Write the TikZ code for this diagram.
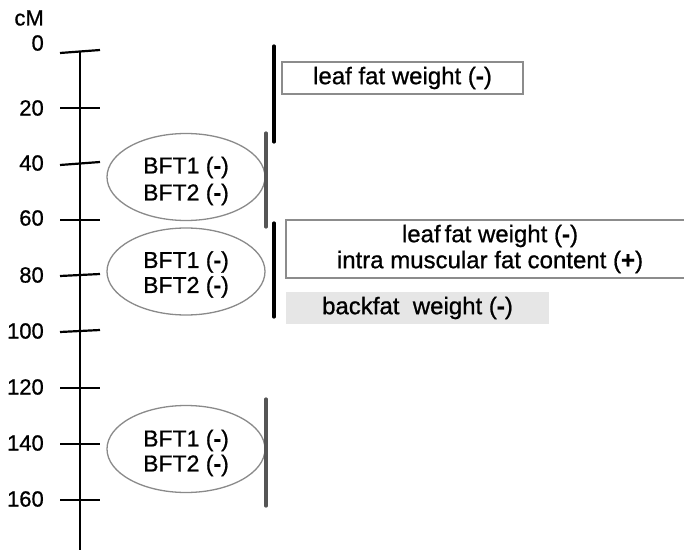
\documentclass[tikz,border=0pt]{standalone}
\usepackage{fontspec}
\setmainfont{Liberation Sans}[FakeBold=0.8]
\usetikzlibrary{shapes.geometric}
\definecolor{ringgray}{HTML}{8A8A8A}
\definecolor{bargray}{HTML}{555555}
\definecolor{boxgray}{HTML}{8C8C8C}
\definecolor{fillgray}{HTML}{E6E6E6}
\begin{document}
\begin{tikzpicture}[x=1pt,y=-1pt,
  axislbl/.style={anchor=east,inner sep=0pt,font=\fontsize{22}{24}\selectfont},
  tickln/.style={line width=2.2pt},
  qtl/.style={draw=ringgray,line width=1.3pt,ellipse,minimum width=158pt,minimum height=87pt,inner sep=0pt},
  qtltext/.style={inner sep=0pt,align=center,font=\fontsize{23}{25}\selectfont},
  blackbar/.style={line width=3.2pt,line cap=round,black},
  graybar/.style={line width=3.2pt,line cap=round,bargray},
  tbox/.style={draw=boxgray,line width=1.4pt,rectangle,inner sep=0pt,align=center,font=\fontsize{24}{28}\selectfont},
  fbox/.style={fill=fillgray,rectangle,inner sep=0pt,align=center,font=\fontsize{24}{28}\selectfont}]
\useasboundingbox (0,0) rectangle (684,553);
% axis
\coordinate (atop) at (80,51);
\coordinate (abot) at (80,550);
\draw[line width=1.8pt] (atop) -- (abot);
\node[axislbl] (cm) at (44,18) {cM};
% ticks
\foreach \v/\yl/\yr in {0/53/50,20/108/108,40/165/162,60/220/220,80/276/274,100/332/330,120/388/388,140/444/444,160/500/500}{
  \coordinate (tl\v) at (60,\yl);
  \coordinate (tr\v) at (100,\yr);
  \draw[tickln] (tl\v) -- (tr\v);
}
\node[axislbl] (l0) at (44,43) {0};
\node[axislbl] (l20) at (44,108) {20};
\node[axislbl] (l40) at (44,163) {40};
\node[axislbl] (l60) at (44,218) {60};
\node[axislbl] (l80) at (44,275) {80};
\node[axislbl] (l100) at (44,331) {100};
\node[axislbl] (l120) at (44,387) {120};
\node[axislbl] (l140) at (44,443) {140};
\node[axislbl] (l160) at (44,499) {160};
% QTL ellipses
\node[qtl] (e1) at (186,177) {};
\node[qtl] (e2) at (186,271.5) {};
\node[qtl] (e3) at (186,449) {};
\node[qtltext] (n1) at (186,181) {BFT1 (\textbf{-})\\[2pt]BFT2 (\textbf{-})};
\node[qtltext] (n2) at (186,274.5) {BFT1 (\textbf{-})\\BFT2 (\textbf{-})};
\node[qtltext] (n3) at (186,453) {BFT1 (\textbf{-})\\BFT2 (\textbf{-})};
% bars
\coordinate (b1t) at (274,46); \coordinate (b1b) at (274,142);
\coordinate (g1t) at (266,133); \coordinate (g1b) at (266,227);
\coordinate (b2t) at (274,223); \coordinate (b2b) at (274,317);
\coordinate (g3t) at (266,399); \coordinate (g3b) at (266,506);
\draw[blackbar] (b1t) -- (b1b);
\draw[graybar] (g1t) -- (g1b);
\draw[blackbar] (b2t) -- (b2b);
\draw[graybar] (g3t) -- (g3b);
% trait boxes
\node[tbox,minimum width=241pt,minimum height=32pt] (t1) at (402.5,78) {leaf fat weight (\textbf{-})};
\node[tbox,minimum width=408pt,minimum height=58pt] (t2) at (490,249) {leaf\,fat weight (\textbf{-})\\[-2pt]intra muscular fat content (\textbf{+})};
\node[fbox,minimum width=263pt,minimum height=32pt] (t3) at (417.5,308) {backfat\ \ weight (\textbf{-})};
\end{tikzpicture}
\end{document}
